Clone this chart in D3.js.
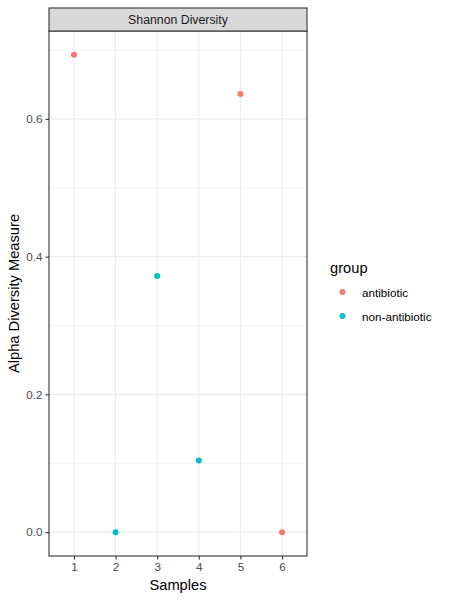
<!DOCTYPE html>
<html>
<head>
<meta charset="utf-8">
<script src="https://cdn.jsdelivr.net/npm/d3@7"></script>
<style>
  body { margin: 0; background: #fff; }
  text { font-family: "Liberation Sans", Arial, Helvetica, sans-serif; }
</style>
</head>
<body>
<div id="chart"></div>
<script>
// data
const samples = [1, 2, 3, 4, 5, 6];
const shannon = [0.693, 0, 0.372, 0.104, 0.636, 0];
const groups = ["antibiotic", "non-antibiotic", "non-antibiotic", "non-antibiotic", "antibiotic", "antibiotic"];
const groupNames = ["antibiotic", "non-antibiotic"];
const groupColors = ["#F8766D", "#00BFC4"];
const yTicks = [0, 0.2, 0.4, 0.6];
const yMinor = [0.1, 0.3, 0.5, 0.7];

const width = 450, height = 600;
const panel = { left: 49, right: 307, top: 31, bottom: 556 };

const svg = d3.select("#chart").append("svg")
  .attr("width", width)
  .attr("height", height);

const x = d3.scaleLinear().domain([0.4, 6.6]).range([panel.left, panel.right]);
const ymax = d3.max(shannon), pad = ymax * 0.05;
const y = d3.scaleLinear().domain([-pad, ymax + pad]).range([panel.bottom, panel.top]);
const color = d3.scaleOrdinal().domain(groupNames).range(groupColors);

// panel background + grid
svg.append("rect")
  .attr("x", panel.left).attr("y", panel.top)
  .attr("width", panel.right - panel.left).attr("height", panel.bottom - panel.top)
  .attr("fill", "white");

const grid = svg.append("g").attr("class", "grid");
grid.selectAll(".minor").data(yMinor).enter().append("line")
  .attr("x1", panel.left).attr("x2", panel.right)
  .attr("y1", d => y(d)).attr("y2", d => y(d))
  .attr("stroke", "#EBEBEB").attr("stroke-width", 0.55);
grid.selectAll(".majorY").data(yTicks).enter().append("line")
  .attr("x1", panel.left).attr("x2", panel.right)
  .attr("y1", d => y(d)).attr("y2", d => y(d))
  .attr("stroke", "#EBEBEB").attr("stroke-width", 1.1);
grid.selectAll(".majorX").data(samples).enter().append("line")
  .attr("y1", panel.top).attr("y2", panel.bottom)
  .attr("x1", d => x(d)).attr("x2", d => x(d))
  .attr("stroke", "#EBEBEB").attr("stroke-width", 1.1);

// points
svg.append("g").selectAll("circle")
  .data(samples.map((s, i) => ({ s: s, v: shannon[i], g: groups[i] })))
  .enter().append("circle")
  .attr("cx", d => x(d.s))
  .attr("cy", d => y(d.v))
  .attr("r", 3)
  .attr("fill", d => color(d.g));

// panel border
svg.append("rect")
  .attr("x", panel.left).attr("y", panel.top)
  .attr("width", panel.right - panel.left).attr("height", panel.bottom - panel.top)
  .attr("fill", "none").attr("stroke", "#333333").attr("stroke-width", 1.1);

// facet strip
svg.append("rect")
  .attr("x", panel.left).attr("y", 8)
  .attr("width", panel.right - panel.left).attr("height", panel.top - 8)
  .attr("fill", "#D9D9D9").attr("stroke", "#333333").attr("stroke-width", 1.1);
svg.append("text")
  .attr("x", (panel.left + panel.right) / 2).attr("y", 19.5)
  .attr("text-anchor", "middle").attr("dominant-baseline", "central")
  .attr("font-size", 12.3).attr("fill", "#1A1A1A")
  .text("Shannon Diversity");

// axes
const xAxis = svg.append("g")
  .attr("transform", "translate(0," + panel.bottom + ")")
  .call(d3.axisBottom(x).tickValues(samples).tickFormat(d3.format("d")).tickSize(3.5).tickPadding(3));
const yAxis = svg.append("g")
  .attr("transform", "translate(" + panel.left + ",0)")
  .call(d3.axisLeft(y).tickValues(yTicks).tickFormat(d3.format(".1f")).tickSize(3.5).tickPadding(3));
[xAxis, yAxis].forEach(function (a) {
  a.select(".domain").remove();
  a.selectAll(".tick line").attr("stroke", "#333333").attr("stroke-width", 1.1);
  a.selectAll(".tick text").attr("fill", "#4D4D4D").attr("font-size", 11.7)
    .attr("font-family", "Liberation Sans, Arial, sans-serif");
});

// axis titles
svg.append("text")
  .attr("x", (panel.left + panel.right) / 2).attr("y", 590)
  .attr("text-anchor", "middle").attr("font-size", 14.7).attr("fill", "black")
  .text("Samples");
svg.append("text")
  .attr("transform", "translate(19," + (panel.top + panel.bottom) / 2 + ") rotate(-90)")
  .attr("text-anchor", "middle").attr("font-size", 14.7).attr("fill", "black")
  .text("Alpha Diversity Measure");

// legend
const legend = svg.append("g").attr("transform", "translate(330,0)");
legend.append("text")
  .attr("x", 0).attr("y", 273)
  .attr("font-size", 14.7).attr("fill", "black")
  .text("group");
const items = legend.selectAll(".item").data(groupNames).enter().append("g")
  .attr("transform", (d, i) => "translate(0," + (292 + i * 24) + ")");
items.append("circle")
  .attr("cx", 12.5).attr("cy", 0).attr("r", 3)
  .attr("fill", d => color(d));
items.append("text")
  .attr("x", 32).attr("y", 0)
  .attr("dominant-baseline", "central")
  .attr("font-size", 11.7).attr("fill", "black")
  .text(d => d);
</script>
</body>
</html>
